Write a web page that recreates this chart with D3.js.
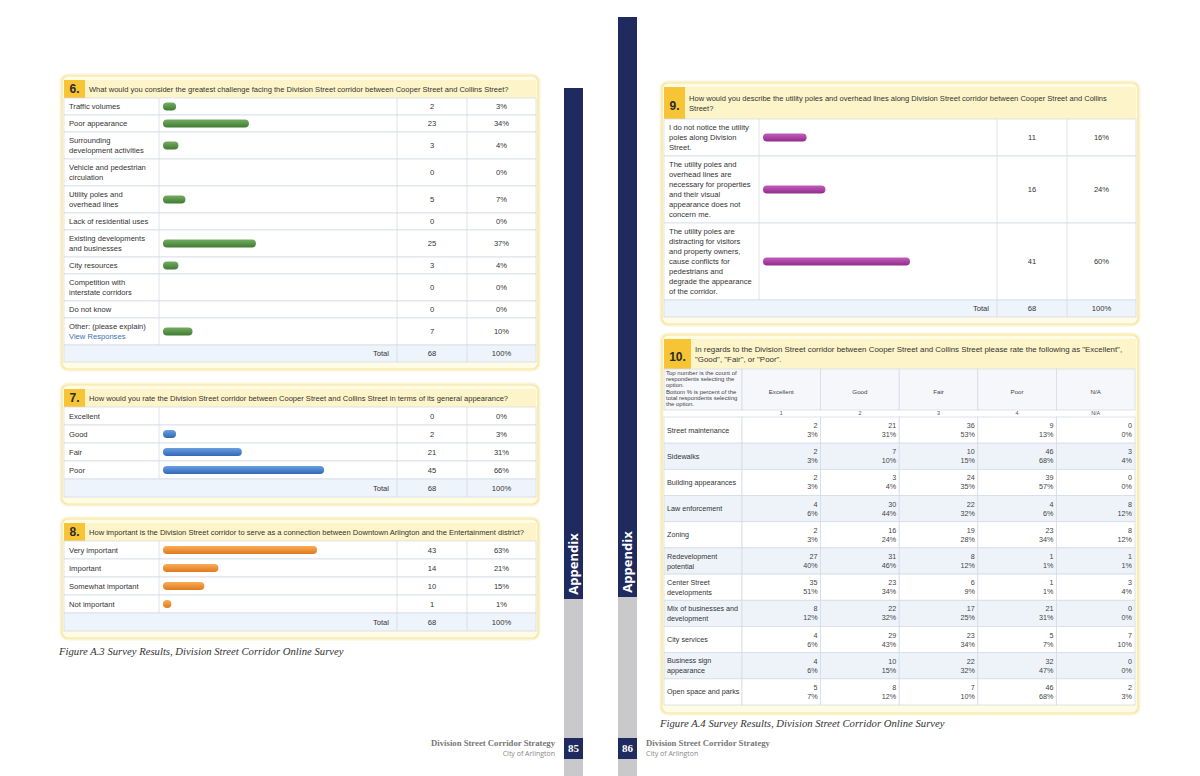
<!DOCTYPE html>
<html><head><meta charset="utf-8">
<script src="https://cdn.jsdelivr.net/npm/d3@7"></script>
<style>body{margin:0;background:#fff}svg{display:block}</style>
</head><body><svg id="c" width="1200" height="776"></svg>
<script>
// ---------------- DATA ----------------
const q6Title = ["What would you consider the greatest challenge facing the Division Street corridor between Cooper Street and Collins Street?"];
const q6Labels = [["Traffic volumes"],["Poor appearance"],["Surrounding","development activities"],["Vehicle and pedestrian","circulation"],["Utility poles and","overhead lines"],["Lack of residential uses"],["Existing developments","and businesses"],["City resources"],["Competition with","interstate corridors"],["Do not know"],["Other: (please explain)","View Responses"]];
const q6Counts = [2,23,3,0,5,0,25,3,0,0,7];
const q6Pcts = [3,34,4,0,7,0,37,4,0,0,10];

const q7Title = ["How would you rate the Division Street corridor between Cooper Street and Collins Street in terms of its general appearance?"];
const q7Labels = [["Excellent"],["Good"],["Fair"],["Poor"]];
const q7Counts = [0,2,21,45];
const q7Pcts = [0,3,31,66];

const q8Title = ["How important is the Division Street corridor to serve as a connection between Downtown Arlington and the Entertainment district?"];
const q8Labels = [["Very important"],["Important"],["Somewhat important"],["Not important"]];
const q8Counts = [43,14,10,1];
const q8Pcts = [63,21,15,1];

const q9Title = ["How would you describe the utility poles and overhead lines along Division Street corridor between Cooper Street and Collins","Street?"];
const q9Labels = [["I do not notice the utility","poles along Division","Street."],["The utility poles and","overhead lines are","necessary for properties","and their visual","appearance does not","concern me."],["The utility poles are","distracting for visitors","and property owners,","cause conflicts for","pedestrians and","degrade the appearance","of the corridor."]];
const q9Counts = [11,16,41];
const q9Pcts = [16,24,60];

const totalCount = 68;

const q10Title = ["In regards to the Division Street corridor between Cooper Street and Collins Street please rate the following as \"Excellent\",","\"Good\", \"Fair\", or \"Poor\"."];
const q10Note = ["Top number is the count of","respondents selecting the","option.","Bottom % is percent of the","total respondents selecting","the option."];
const q10Cols = ["Excellent","Good","Fair","Poor","N/A"];
const q10Index = ["1","2","3","4","N/A"];
const q10Rows = [["Street maintenance"],["Sidewalks"],["Building appearances"],["Law enforcement"],["Zoning"],["Redevelopment","potential"],["Center Street","developments"],["Mix of businesses and","development"],["City services"],["Business sign","appearance"],["Open space and parks"]];
const excellentCounts = [2,2,2,4,2,27,35,8,4,4,5];
const excellentPcts   = [3,3,3,6,3,40,51,12,6,6,7];
const goodCounts = [21,7,3,30,16,31,23,22,29,10,8];
const goodPcts   = [31,10,4,44,24,46,34,32,43,15,12];
const fairCounts = [36,10,24,22,19,8,6,17,23,22,7];
const fairPcts   = [53,15,35,32,28,12,9,25,34,32,10];
const poorCounts = [9,46,39,4,23,1,1,21,5,32,46];
const poorPcts   = [13,68,57,6,34,1,1,31,7,47,68];
const naCounts = [0,3,0,8,8,1,3,0,7,0,2];
const naPcts   = [0,4,0,12,12,1,4,0,10,0,3];

const captionLeft = "Figure A.3 Survey Results, Division Street Corridor Online Survey";
const captionRight = "Figure A.4 Survey Results, Division Street Corridor Online Survey";
const footerTitle = "Division Street Corridor Strategy";
const footerSub = "City of Arlington";
const pageNumbers = ["85","86"];
const sideLabel = "Appendix";

// ---------------- DRAWING ----------------
const svg = d3.select("#c");
const SANS = "'Liberation Sans', Arial, sans-serif";
const SERIF = "'Liberation Serif', 'Times New Roman', serif";
const NAVY = "#1f2a5e";
const BORDER = "#d6dbe6";
const TXT = "#333";
const LABEL_FS = 7.6, TITLE_FS = 7.55;

const defs = svg.append("defs");
const barColors = {green:["#74ad62","#3f7b31"], blue:["#6a9fe0","#2f69b7"], orange:["#f8ab5a","#e07a1c"], purple:["#c25dbc","#912c8c"]};
Object.entries(barColors).forEach(([k,[a,b]]) => {
  const lg = defs.append("linearGradient").attr("id","g-"+k).attr("x1",0).attr("x2",0).attr("y1",0).attr("y2",1);
  lg.append("stop").attr("offset","0%").attr("stop-color",a);
  lg.append("stop").attr("offset","100%").attr("stop-color",b);
});

const xs = d3.scaleLinear().domain([0,100]).range([0,235]);

function multiText(g, lines, x, cy, size, lh, opts={}) {
  const t = g.append("text").attr("font-family",opts.family||SANS).attr("font-size",size)
    .attr("fill",opts.fill||TXT).attr("text-anchor",opts.anchor||"start");
  lines.forEach((ln,i) => {
    const ts = t.append("tspan").attr("x",x).attr("y",cy + (i-(lines.length-1)/2)*lh).attr("dy","0.35em").text(ln);
    if (opts.linkLast && i===lines.length-1) ts.attr("fill","#3b6fb3");
  });
  return t;
}

function panelBox(g, L, top, W, bottom, headerH, num, titleLines, badgeW, titleFs) {
  g.append("rect").attr("x",L-1).attr("y",top-5).attr("width",W+2).attr("height",bottom-top+7)
    .attr("rx",7).attr("fill","none").attr("stroke","#fbf3d2").attr("stroke-width",3);
  g.append("rect").attr("x",L).attr("y",top-4).attr("width",W).attr("height",bottom-top+5)
    .attr("rx",6).attr("fill","#fffbe4").attr("stroke","#f3e5a2").attr("stroke-width",1.2);
  g.append("rect").attr("x",L+2).attr("y",top).attr("width",W-4).attr("height",headerH).attr("fill","#fdf5c9");
  g.append("rect").attr("x",L+2).attr("y",top).attr("width",badgeW).attr("height",headerH).attr("fill","#f6c434");
  g.append("text").attr("x",L+2+badgeW/2).attr("y",top+headerH/2+(titleLines.length>1?3:0)).attr("dy","0.35em")
    .attr("text-anchor","middle").attr("font-family",SANS).attr("font-weight","bold").attr("font-size",12)
    .attr("fill","#2b2b2b").text(num);
  multiText(g, titleLines, L+badgeW+6, top+headerH/2, titleFs, 10, {fill:"#333"});
}

function barPanel(c) {
  const g = svg.append("g");
  const L = c.x0, W = 476;
  const cols = [L+2, L+97, L+335, L+405, L+474];
  const hBot = c.top + c.headerH;
  const heights = c.labels.map(l => l.length===1 ? c.single : 10*l.length+7);
  const ys = [hBot]; heights.forEach(h => ys.push(ys[ys.length-1]+h));
  const totalTop = ys[ys.length-1], totalBot = totalTop + c.single;
  panelBox(g, L, c.top, W, totalBot+6, c.headerH, c.num, c.title, 21, TITLE_FS);

  const rows = c.labels.map((lab,i) => ({lab, count:c.counts[i], pct:c.pcts[i], y0:ys[i], y1:ys[i+1]}));
  const rg = g.selectAll("g.row").data(rows).join("g").attr("class","row");
  rg.append("rect").attr("x",cols[0]).attr("y",d=>d.y0).attr("width",cols[4]-cols[0]).attr("height",d=>d.y1-d.y0)
    .attr("fill","#fff").attr("stroke",BORDER).attr("stroke-width",0.8);
  rg.each(function(d){
    const s = d3.select(this), cy = (d.y0+d.y1)/2;
    multiText(s, d.lab, cols[0]+5, cy, LABEL_FS, 10, {linkLast: d.lab[0].startsWith("Other")});
    if (d.count>0) {
      s.append("rect").attr("x",cols[1]+4).attr("y",cy-4).attr("height",8).attr("rx",4)
        .attr("width", xs(d.pct)+6).attr("fill","url(#g-"+c.color+")");
    }
    s.append("text").attr("x",(cols[2]+cols[3])/2).attr("y",cy).attr("dy","0.35em").attr("text-anchor","middle")
      .attr("font-family",SANS).attr("font-size",LABEL_FS).attr("fill",TXT).text(d.count);
    s.append("text").attr("x",(cols[3]+cols[4])/2).attr("y",cy).attr("dy","0.35em").attr("text-anchor","middle")
      .attr("font-family",SANS).attr("font-size",LABEL_FS).attr("fill",TXT).text(d.pct+"%");
  });
  [cols[1],cols[2],cols[3]].forEach(x => g.append("line").attr("x1",x).attr("x2",x).attr("y1",hBot).attr("y2",totalTop)
    .attr("stroke",BORDER).attr("stroke-width",0.8));
  g.append("rect").attr("x",cols[0]).attr("y",totalTop).attr("width",cols[4]-cols[0]).attr("height",c.single)
    .attr("fill","#eef4fb").attr("stroke",BORDER).attr("stroke-width",0.8);
  [cols[2],cols[3]].forEach(x => g.append("line").attr("x1",x).attr("x2",x).attr("y1",totalTop).attr("y2",totalBot)
    .attr("stroke",BORDER).attr("stroke-width",0.8));
  const ty = totalTop + c.single/2;
  g.append("text").attr("x",cols[2]-8).attr("y",ty).attr("dy","0.35em").attr("text-anchor","end")
    .attr("font-family",SANS).attr("font-size",LABEL_FS).attr("fill",TXT).text("Total");
  g.append("text").attr("x",(cols[2]+cols[3])/2).attr("y",ty).attr("dy","0.35em").attr("text-anchor","middle")
    .attr("font-family",SANS).attr("font-size",LABEL_FS).attr("fill",TXT).text(totalCount);
  g.append("text").attr("x",(cols[3]+cols[4])/2).attr("y",ty).attr("dy","0.35em").attr("text-anchor","middle")
    .attr("font-family",SANS).attr("font-size",LABEL_FS).attr("fill",TXT).text("100%");
}

barPanel({x0:62, top:80, headerH:18, num:"6.", title:q6Title, labels:q6Labels, counts:q6Counts, pcts:q6Pcts, color:"green", single:17});
barPanel({x0:62, top:389, headerH:18, num:"7.", title:q7Title, labels:q7Labels, counts:q7Counts, pcts:q7Pcts, color:"blue", single:18});
barPanel({x0:62, top:523, headerH:18, num:"8.", title:q8Title, labels:q8Labels, counts:q8Counts, pcts:q8Pcts, color:"orange", single:18});
barPanel({x0:662, top:87, headerH:32, num:"9.", title:q9Title, labels:q9Labels, counts:q9Counts, pcts:q9Pcts, color:"purple", single:17});

// ---------- Q10 matrix ----------
(function(){
  const g = svg.append("g");
  const L = 662, W = 476, top = 339, headerH = 30;
  const hdrTop = top+headerH, hdrBot = 410, rowsTop = 417, rowsBot = 705;
  panelBox(g, L, top, W, rowsBot+7, headerH, "10.", q10Title, 27, 7.9);
  const colX = d3.scaleBand().domain(q10Cols).range([742,1135]);
  const rowY = d3.scaleBand().domain(d3.range(q10Rows.length)).range([rowsTop,rowsBot]);
  const series = [[excellentCounts,excellentPcts],[goodCounts,goodPcts],[fairCounts,fairPcts],[poorCounts,poorPcts],[naCounts,naPcts]];
  g.append("rect").attr("x",664).attr("y",hdrTop).attr("width",471).attr("height",rowsBot-hdrTop).attr("fill","#fff");
  g.append("rect").attr("x",664).attr("y",hdrTop).attr("width",78).attr("height",hdrBot-hdrTop)
    .attr("fill","#f6f7fa").attr("stroke",BORDER).attr("stroke-width",0.8);
  q10Note.forEach((t,i)=> g.append("text").attr("x",666).attr("y",hdrTop+6+i*6.2).attr("font-family",SANS)
    .attr("font-size",6).attr("fill","#444").text(t));
  g.selectAll("rect.hc").data(q10Cols).join("rect").attr("class","hc")
    .attr("x",d=>colX(d)).attr("y",hdrTop).attr("width",colX.bandwidth()).attr("height",hdrBot-hdrTop)
    .attr("fill","#f6f7fa").attr("stroke",BORDER).attr("stroke-width",0.8);
  g.selectAll("text.hl").data(q10Cols).join("text").attr("class","hl")
    .attr("x",d=>colX(d)+colX.bandwidth()/2).attr("y",(hdrTop+hdrBot)/2+2).attr("dy","0.35em").attr("text-anchor","middle")
    .attr("font-family",SANS).attr("font-size",6.2).attr("fill","#444").text(d=>d);
  g.selectAll("text.ix").data(q10Cols).join("text").attr("class","ix")
    .attr("x",d=>colX(d)+colX.bandwidth()/2).attr("y",hdrBot+3.5).attr("dy","0.35em").attr("text-anchor","middle")
    .attr("font-family",SANS).attr("font-size",5.4).attr("fill","#555").text((d,i)=>q10Index[i]);
  const rg = g.selectAll("g.r10").data(q10Rows).join("g").attr("class","r10");
  rg.append("rect").attr("x",664).attr("y",(d,i)=>rowY(i)).attr("width",78).attr("height",rowY.bandwidth())
    .attr("fill",(d,i)=>i%2?"#eef3fa":"#fff").attr("stroke",BORDER).attr("stroke-width",0.8);
  rg.each(function(lab,i){
    const s = d3.select(this), y0 = rowY(i), cy = y0+rowY.bandwidth()/2;
    multiText(s, lab, 667, cy, 7.2, 10);
    q10Cols.forEach((col,j)=>{
      s.append("rect").attr("x",colX(col)).attr("y",y0).attr("width",colX.bandwidth()).attr("height",rowY.bandwidth())
        .attr("fill",i%2?"#eef3fa":"#fff").attr("stroke",BORDER).attr("stroke-width",0.8);
      const rx = colX(col)+colX.bandwidth()-3;
      s.append("text").attr("x",rx).attr("y",cy-4.5).attr("dy","0.35em").attr("text-anchor","end")
        .attr("font-family",SANS).attr("font-size",7.2).attr("fill","#444").text(series[j][0][i]);
      s.append("text").attr("x",rx).attr("y",cy+4.5).attr("dy","0.35em").attr("text-anchor","end")
        .attr("font-family",SANS).attr("font-size",7.2).attr("fill","#444").text(series[j][1][i]+"%");
    });
  });
})();

// ---------- captions ----------
svg.append("text").attr("x",59).attr("y",655).attr("font-family",SERIF).attr("font-style","italic")
  .attr("font-size",10.7).attr("fill","#333").text(captionLeft);
svg.append("text").attr("x",660).attr("y",727).attr("font-family",SERIF).attr("font-style","italic")
  .attr("font-size",10.7).attr("fill","#333").text(captionRight);

// ---------- side bars ----------
const bars = [{x:564, top:88, navyEnd:599, label:pageNumbers[0]},{x:618, top:17, navyEnd:597, label:pageNumbers[1]}];
bars.forEach(b=>{
  svg.append("rect").attr("x",b.x).attr("y",b.navyEnd).attr("width",19).attr("height",776-b.navyEnd).attr("fill","#c9c9cb");
  svg.append("rect").attr("x",b.x).attr("y",b.top).attr("width",19).attr("height",b.navyEnd-b.top).attr("fill",NAVY);
  svg.append("text").attr("transform",`translate(${b.x+9.5},${b.navyEnd-35}) rotate(-90)`).attr("text-anchor","middle")
    .attr("dy","0.36em").attr("font-family","'Open Sans', 'Liberation Sans', sans-serif").attr("font-weight","bold")
    .attr("font-size",13).attr("fill","#fff").text(sideLabel);
  svg.append("rect").attr("x",b.x).attr("y",738).attr("width",19).attr("height",21).attr("fill",NAVY);
  svg.append("text").attr("x",b.x+9.5).attr("y",748.5).attr("dy","0.35em").attr("text-anchor","middle")
    .attr("font-family",SERIF).attr("font-weight","bold").attr("font-size",11).attr("fill","#fff").text(b.label);
});

// ---------- footers ----------
svg.append("text").attr("x",555).attr("y",746).attr("text-anchor","end").attr("font-family",SERIF).attr("font-weight","bold")
  .attr("font-size",8.7).attr("fill","#777").text(footerTitle);
svg.append("text").attr("x",555).attr("y",756).attr("text-anchor","end").attr("font-family","'Open Sans', sans-serif")
  .attr("font-size",7).attr("fill","#888").text(footerSub);
svg.append("text").attr("x",646).attr("y",746).attr("font-family",SERIF).attr("font-weight","bold")
  .attr("font-size",8.7).attr("fill","#777").text(footerTitle);
svg.append("text").attr("x",646).attr("y",756).attr("font-family","'Open Sans', sans-serif")
  .attr("font-size",7).attr("fill","#888").text(footerSub);
</script></body></html>
